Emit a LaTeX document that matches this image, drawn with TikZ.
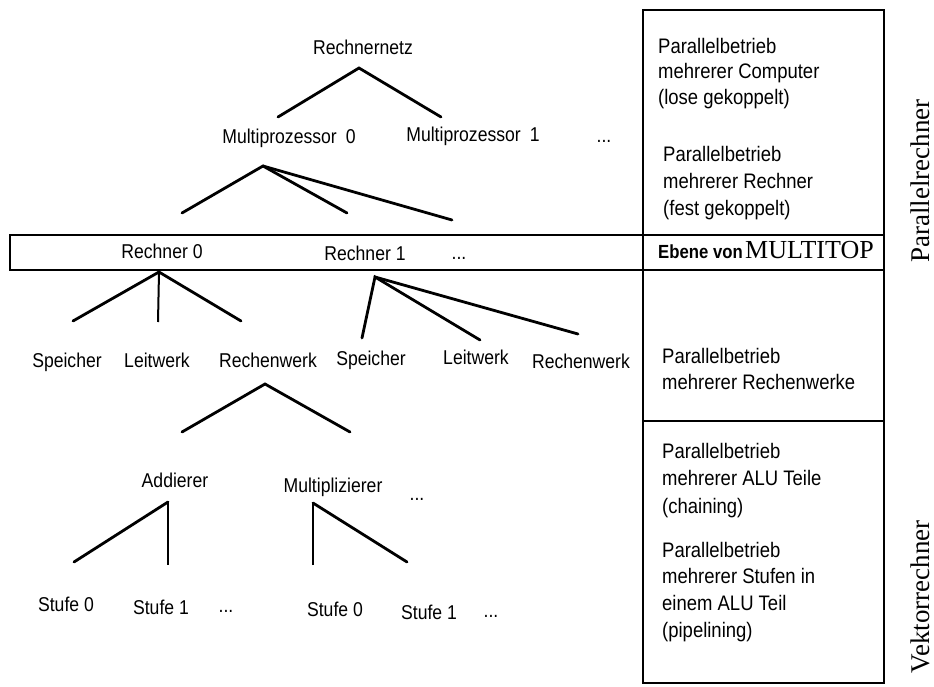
\documentclass[tikz,border=0pt]{standalone}
\usepackage{fontspec}
\setmainfont{Liberation Sans}[FakeStretch=0.88]
\newfontfamily\labelserif{Liberation Serif}
\begin{document}
\begin{tikzpicture}[x=1pt,y=-1pt,
  lbl/.style={font=\fontsize{20}{24}\selectfont, inner sep=0pt, anchor=base},
  note/.style={font=\fontsize{21}{25}\selectfont, inner sep=0pt, anchor=base west, align=left},
  branch/.style={line width=2.8pt, line cap=round},
  stem/.style={line width=2pt},
  frame/.style={line width=2.2pt},
  side/.style={font=\labelserif\fontsize{27}{30}\selectfont, rotate=90, anchor=base, inner sep=0pt}]

\useasboundingbox (0,0) rectangle (934,687);

% ---- frames: level column and the MULTITOP band
\draw[frame] (643,10) rectangle (884,683);
\draw[frame] (10,235) rectangle (884,270);
\draw[frame] (643,421) -- (884,421);

% ---- level 1: network of computers
\node[lbl] (rnetz) at (363,55) {Rechnernetz};
\coordinate (rnetz-a) at (359,68);
\coordinate (rnetz-l) at (278,117);
\coordinate (rnetz-r) at (441,117);
\draw[branch] (rnetz-l) -- (rnetz-a) -- (rnetz-r);

% ---- level 2: multiprocessors
\node[lbl] (mp0) at (289,144) {Multiprozessor\hspace{0.45em}0};
\node[lbl] (mp1) at (473,142) {Multiprozessor\hspace{0.45em}1};
\node[lbl] (mpdots) at (604,143) {...};
\coordinate (mp0-a) at (263,166);
\coordinate (mp0-l) at (182,213);
\coordinate (mp0-m) at (347,213);
\coordinate (mp0-r) at (452,220);
\draw[branch] (mp0-l) -- (mp0-a) -- (mp0-m);
\draw[branch] (mp0-a) -- (mp0-r);

% ---- level 3: computers (MULTITOP level)
\node[lbl] (r0) at (162,258) {Rechner 0};
\node[lbl] (r1) at (365,260) {Rechner 1};
\node[lbl] (rdots) at (459,259) {...};

\coordinate (r0-a) at (159,272);
\coordinate (r0-l) at (73,321);
\coordinate (r0-m) at (158,322);
\coordinate (r0-r) at (241,321);
\draw[branch] (r0-l) -- (r0-a) -- (r0-r);
\draw[stem] (r0-a) -- (r0-m);

\coordinate (r1-a) at (375,277);
\coordinate (r1-l) at (362,338);
\coordinate (r1-m) at (480,340);
\coordinate (r1-r) at (578,334);
\draw[branch] (r1-l) -- (r1-a) -- (r1-m);
\draw[branch] (r1-a) -- (r1-r);

% ---- level 4: units of a computer
\node[lbl] (sp0) at (67,367) {Speicher};
\node[lbl] (lw0) at (157,367) {Leitwerk};
\node[lbl] (rw0) at (268,367) {Rechenwerk};
\node[lbl] (sp1) at (371,365) {Speicher};
\node[lbl] (lw1) at (476,364) {Leitwerk};
\node[lbl] (rw1) at (581,368) {Rechenwerk};

\coordinate (rw0-a) at (265,384);
\coordinate (rw0-l) at (182,432);
\coordinate (rw0-r) at (350,432);
\draw[branch] (rw0-l) -- (rw0-a) -- (rw0-r);

% ---- level 5: ALU parts
\node[lbl] (add) at (175,487) {Addierer};
\node[lbl] (mul) at (333,492) {Multiplizierer};
\node[lbl] (aludots) at (417,500) {...};

\coordinate (add-a) at (168,502);
\coordinate (add-l) at (74,562);
\coordinate (add-v) at (168,565);
\draw[branch] (add-l) -- (add-a);
\draw[stem] (add-a) -- (add-v);

\coordinate (mul-a) at (313,503);
\coordinate (mul-v) at (313,565);
\coordinate (mul-r) at (407,562);
\draw[stem] (mul-v) -- (mul-a);
\draw[branch] (mul-a) -- (mul-r);

% ---- level 6: pipeline stages
\node[lbl] (as0) at (66,611) {Stufe 0};
\node[lbl] (as1) at (161,614) {Stufe 1};
\node[lbl] (asdots) at (226,612) {...};
\node[lbl] (ms0) at (335,616) {Stufe 0};
\node[lbl] (ms1) at (429,619) {Stufe 1};
\node[lbl] (msdots) at (491,617) {...};

% ---- descriptions in the level column
\node[note] (d1) at (658,54) {Parallelbetrieb};
\node[note] (d1b) at (658,79) {mehrerer Computer};
\node[note] (d1c) at (658,105) {(lose gekoppelt)};

\node[note] (d2) at (663,162) {Parallelbetrieb};
\node[note] (d2b) at (663,189) {mehrerer Rechner};
\node[note] (d2c) at (663,215) {(fest gekoppelt)};

\node[inner sep=0pt, anchor=base west] (ebene) at (658,258)
  {{\fontsize{19}{23}\selectfont\bfseries Ebene von} {\labelserif\fontsize{26}{30}\selectfont MULTITOP}};

\node[note] (d3) at (662,363) {Parallelbetrieb};
\node[note] (d3b) at (662,389) {mehrerer Rechenwerke};

\node[note] (d4) at (662,458) {Parallelbetrieb};
\node[note] (d4b) at (662,485) {mehrerer ALU Teile};
\node[note] (d4c) at (662,513) {(chaining)};

\node[note] (d5) at (662,557) {Parallelbetrieb};
\node[note] (d5b) at (662,583) {mehrerer Stufen in};
\node[note] (d5c) at (662,610) {einem ALU Teil};
\node[note] (d5d) at (662,637) {(pipelining)};

% ---- class labels at the right margin
\node[side] (par) at (929,181) {Parallelrechner};
\node[side] (vek) at (929,597) {Vektorrechner};
\end{tikzpicture}
\end{document}
